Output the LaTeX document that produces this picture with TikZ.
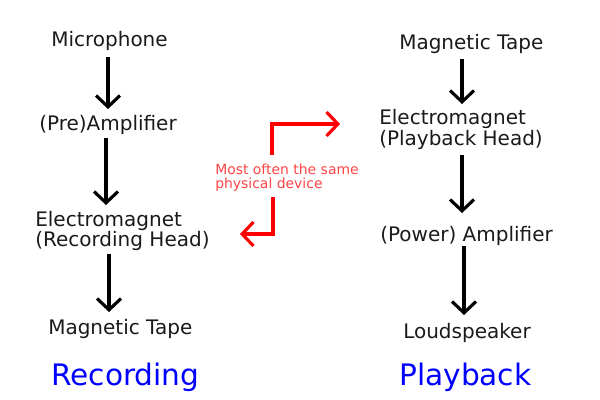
\documentclass[tikz,border=0pt]{standalone}
\usepackage{fontspec}
\setmainfont{DejaVu Sans}
\usetikzlibrary{arrows.meta}
\definecolor{txt}{HTML}{1A1A1A}
\definecolor{redtxt}{HTML}{FF4444}
\tikzset{
 lab/.style={anchor=west,inner sep=0pt,text=txt,font=\fontsize{15pt}{15.6pt}\selectfont,align=left},
 title/.style={anchor=west,inner sep=0pt,text=blue,font=\fontsize{22.2pt}{24pt}\selectfont},
 note/.style={anchor=west,inner sep=0pt,text=redtxt,font=\fontsize{10.45pt}{11pt}\selectfont,align=left},
 blk/.style={draw=black,line width=2.35pt,-{Straight Barb[length=8.5pt,width=18pt,line width=2.35pt]}},
 rd/.style={draw=red,line width=2.35pt,-{Straight Barb[length=8.5pt,width=18pt,line width=2.35pt]}}
}
\begin{document}
\begin{tikzpicture}[x=0.75pt,y=-0.75pt]
\useasboundingbox (0,0) rectangle (600,400);
\node[lab] (mic) at (51,40.5) {Microphone};
\node[lab] (pre) at (39,124.5) {(Pre)Amplifier};
\node[lab] (em1) at (35,231) {Electromagnet\\(Recording Head)};
\node[lab] (mt1) at (48,328.5) {Magnetic Tape};
\node[title] (rec) at (51,377) {Recording};
\node[lab] (mt2) at (399,43.5) {Magnetic Tape};
\node[lab] (em2) at (379,129.5) {Electromagnet\\(Playback Head)};
\node[lab] (pow) at (380,235.5) {(Power) Amplifier};
\node[lab] (ls) at (403,332.5) {Loudspeaker};
\node[title] (pb) at (399,377) {Playback};
\node[note] (same) at (215,177.5) {Most often the same\\physical device};
\coordinate (a1s) at (108,57); \coordinate (a1e) at (108,109);
\coordinate (a2s) at (106,138); \coordinate (a2e) at (106,205);
\coordinate (a3s) at (109,254); \coordinate (a3e) at (109,312);
\coordinate (b1s) at (462,59); \coordinate (b1e) at (462,104);
\coordinate (b2s) at (462,155); \coordinate (b2e) at (462,213);
\coordinate (b3s) at (464,246); \coordinate (b3e) at (464,315);
\coordinate (r1s) at (272,155); \coordinate (r1c) at (272,124); \coordinate (r1e) at (340,124);
\coordinate (r2s) at (273,197); \coordinate (r2c) at (273,234); \coordinate (r2e) at (240,234);
\draw[blk] (a1s) -- (a1e);
\draw[blk] (a2s) -- (a2e);
\draw[blk] (a3s) -- (a3e);
\draw[blk] (b1s) -- (b1e);
\draw[blk] (b2s) -- (b2e);
\draw[blk] (b3s) -- (b3e);
\draw[rd] (r1s) -- (r1c) -- (r1e);
\draw[rd] (r2s) -- (r2c) -- (r2e);
\end{tikzpicture}
\end{document}
